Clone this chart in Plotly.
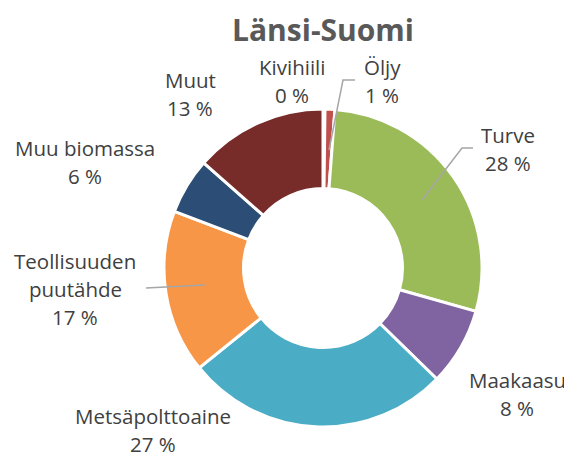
import plotly.graph_objects as go

# the page body has an 8px margin, so the figure is drawn 8px in
OFF = 8
W, H = 572 - OFF, 459 - OFF

# data
labels = ["Kivihiili", "Öljy", "Turve", "Maakaasu", "Metsäpolttoaine",
          "Teollisuuden puutähde", "Muu biomassa", "Muut"]
values = [0.2, 1.0, 28.2, 7.9, 26.9, 16.6, 5.7, 13.5]
shown_pct = [0, 1, 28, 8, 27, 17, 6, 13]
colors = ["#4F81BD", "#C0504D", "#9BBB59", "#8064A2", "#4BACC6",
          "#F79646", "#2C4D75", "#772C2A"]

# label text placement (pixel centres) and leader lines
label_lines = {
    "Kivihiili": ["Kivihiili"],
    "Öljy": ["Öljy"],
    "Turve": ["Turve"],
    "Maakaasu": ["Maakaasu"],
    "Metsäpolttoaine": ["Metsäpolttoaine"],
    "Teollisuuden puutähde": ["Teollisuuden", "puutähde"],
    "Muu biomassa": ["Muu biomassa"],
    "Muut": ["Muut"],
}
label_pos = {
    "Kivihiili": (292, 67),
    "Öljy": (382, 67),
    "Turve": (508, 135),
    "Maakaasu": (517, 380),
    "Metsäpolttoaine": (153, 416),
    "Teollisuuden puutähde": (75, 261),
    "Muu biomassa": (85, 148),
    "Muut": (190, 80),
}
leaders = [
    [(329, 150), (343, 80), (355, 80)],
    [(422, 200), (462, 148), (473, 148)],
    [(146, 288), (205, 285)],
]


def px(x, y):
    return (x - OFF) / W, 1 - (y - OFF) / H


cx, cy, r = 323, 268, 159
x0, y1 = px(cx - r, cy - r)
x1, y0 = px(cx + r, cy + r)

fig = go.Figure(
    go.Pie(
        labels=labels,
        values=values,
        sort=False,
        direction="clockwise",
        rotation=0,
        hole=0.5,
        marker=dict(colors=colors, line=dict(color="white", width=3)),
        textinfo="none",
        hoverinfo="label+percent",
        domain=dict(x=[x0, x1], y=[y0, y1]),
        showlegend=False,
    )
)

line_h = 28
for name, pct in zip(labels, shown_pct):
    lines = label_lines[name] + [f"{pct} %"]
    lx, ly = label_pos[name]
    for i, t in enumerate(lines):
        ax, ay = px(lx, ly + i * line_h)
        fig.add_annotation(
            x=ax, y=ay, xref="paper", yref="paper",
            text=t, showarrow=False,
            xanchor="center", yanchor="middle",
            font=dict(family="Open Sans", size=20.5, color="#404040"),
        )

for pts in leaders:
    path = ""
    for i, (x, y) in enumerate(pts):
        px_, py_ = px(x, y)
        path += ("M" if i == 0 else " L") + f" {px_} {py_}"
    fig.add_shape(type="path", path=path, xref="paper", yref="paper",
                  line=dict(color="#A6A6A6", width=1.5))

tx, ty = px(323, 30)
fig.update_layout(
    title=dict(
        text="<b>Länsi-Suomi</b>",
        x=tx, y=ty, xanchor="center", yanchor="middle",
        xref="paper", yref="container",
        font=dict(family="Open Sans", size=30, color="#595959"),
    ),
    width=W,
    height=H,
    margin=dict(l=0, r=0, t=0, b=0),
    paper_bgcolor="white",
    plot_bgcolor="white",
)

fig.write_html("out.html")
